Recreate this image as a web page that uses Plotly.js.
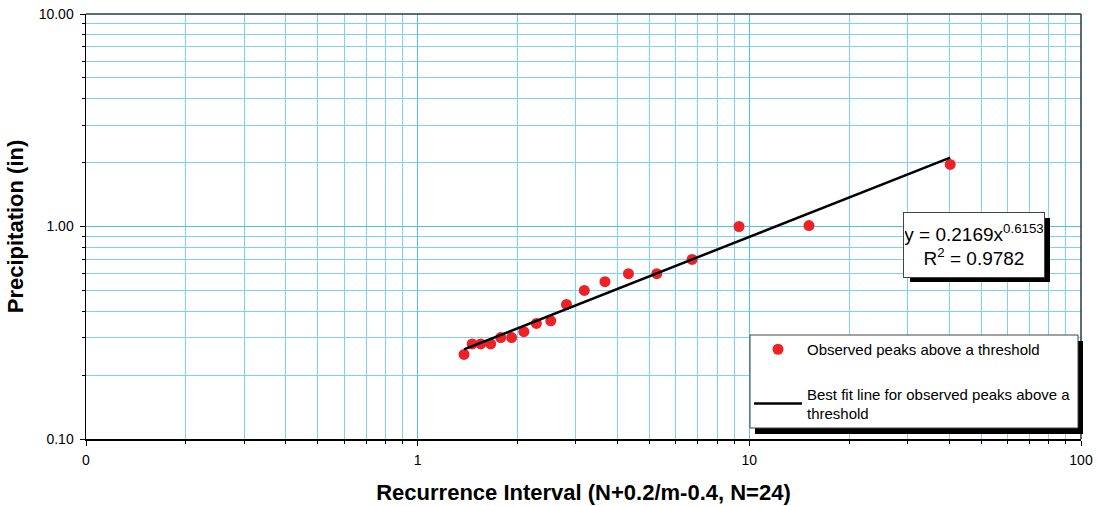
<!DOCTYPE html>
<html>
<head>
<meta charset="utf-8">
<script src="https://cdn.plot.ly/plotly-3.0.1.min.js"></script>
<style>html,body{margin:0;padding:0;background:#fff;}#chart{width:1097px;height:506px;}</style>
</head>
<body>
<div id="chart"></div>
<script>
// Observed peaks above a threshold (N=24)
const recurrenceInterval = [40.33, 15.13, 9.31, 6.72, 5.26, 4.32, 3.67, 3.18, 2.81, 2.52, 2.28, 2.09, 1.92, 1.78, 1.66, 1.55, 1.46, 1.38];
const precipitation      = [1.96, 1.01, 1.00, 0.70, 0.60, 0.60, 0.55, 0.50, 0.43, 0.36, 0.35, 0.32, 0.30, 0.30, 0.28, 0.28, 0.28, 0.25];
// Best fit line end points
const fitX = [1.38, 40.33];
const fitY = [0.264, 2.11];
const xTickVals = [0.1, 1, 10, 100];
const xTickText = ['0', '1', '10', '100'];
const yTickVals = [0.1, 1, 10];
const yTickText = ['0.10', '1.00', '10.00'];
const equationText = 'y = 0.2169x<sup>0.6153</sup><br>R<sup>2</sup> = 0.9782';

const L = 86, R = 1081, T = 14, B = 439;
const px = x => (x - L) / (R - L);
const py = y => (B - y) / (B - T);

const gridColor = '#7fd3f2';
const font = 'Arial, "Liberation Sans", sans-serif';

const traces = [
  {
    x: recurrenceInterval, y: precipitation, type: 'scatter', mode: 'markers',
    name: 'Observed peaks above a threshold', legendgroup: 'a',
    marker: {color: '#ec2227', size: 11}
  },
  {
    x: fitX, y: fitY, type: 'scatter', mode: 'lines',
    name: 'Best fit line for observed peaks above a<br>threshold', legendgroup: 'b',
    line: {color: '#000', width: 2.5}
  }
];

const layout = {
  width: 1097, height: 506,
  margin: {l: L, r: 1097 - R, t: T, b: 506 - B},
  paper_bgcolor: '#fff', plot_bgcolor: '#fff',
  font: {family: font, color: '#000', size: 14},
  showlegend: true,
  xaxis: {
    type: 'log', range: [-1, 2],
    tickvals: xTickVals, ticktext: xTickText,
    ticks: 'outside', ticklen: 5, tickcolor: '#000',
    ticklabelstandoff: 3,
    showgrid: true, gridcolor: '#4fc3ee', gridwidth: 1,
    minor: {dtick: 'D1', showgrid: true, gridcolor: gridColor, gridwidth: 1, ticks: 'outside', ticklen: 3, tickcolor: '#000'},
    showline: true, linecolor: '#000', linewidth: 1.5, mirror: false,
    zeroline: false,
    tickfont: {size: 14, family: font},
    title: {text: '<b>Recurrence Interval (N+0.2/m-0.4, N=24)</b>', font: {size: 22, family: font}, standoff: 17}
  },
  yaxis: {
    type: 'log', range: [-1, 1],
    tickvals: yTickVals, ticktext: yTickText,
    ticks: 'outside', ticklen: 5, tickcolor: '#000',
    ticklabelstandoff: 3,
    showgrid: true, gridcolor: '#4fc3ee', gridwidth: 1,
    minor: {dtick: 'D1', showgrid: true, gridcolor: gridColor, gridwidth: 1, ticks: 'outside', ticklen: 3, tickcolor: '#000'},
    showline: true, linecolor: '#000', linewidth: 1.5, mirror: false,
    zeroline: false,
    tickfont: {size: 14, family: font},
    title: {text: '<b>Precipitation (in)</b>', font: {size: 22, family: font}, standoff: 9}
  },
  legend: {
    x: px(749), y: py(333), xanchor: 'left', yanchor: 'top',
    bgcolor: 'rgba(0,0,0,0)', borderwidth: 0,
    font: {size: 15, family: font},
    itemwidth: 48,
    traceorder: 'grouped', tracegroupgap: 22
  },
  shapes: [
    // plot border (top/right)
    {type: 'line', xref: 'paper', yref: 'paper', x0: 0, x1: 1, y0: 1, y1: 1, line: {color: '#233b40', width: 1.5}, layer: 'above'},
    {type: 'line', xref: 'paper', yref: 'paper', x0: 1, x1: 1, y0: 0, y1: 1, line: {color: '#233b40', width: 1.5}, layer: 'above'},
    // legend shadow + box
    {type: 'rect', xref: 'paper', yref: 'paper', x0: px(755), x1: px(1083), y0: py(341), y1: py(434), fillcolor: '#000', line: {width: 0}, layer: 'above'},
    {type: 'rect', xref: 'paper', yref: 'paper', x0: px(750), x1: px(1078), y0: py(335), y1: py(428), fillcolor: '#fff', line: {color: '#444', width: 1}, layer: 'above'},
    // equation shadow
    {type: 'rect', xref: 'paper', yref: 'paper', x0: px(910), x1: px(1050), y0: py(218), y1: py(282), fillcolor: '#000', line: {width: 0}, layer: 'above'}
  ],
  annotations: [
    {
      xref: 'paper', yref: 'paper', x: px(974), y: py(245), xanchor: 'center', yanchor: 'middle',
      text: equationText, showarrow: false,
      font: {size: 19, family: font, color: '#000'},
      bgcolor: '#fff', bordercolor: '#444', borderwidth: 1,
      width: 138, height: 62, align: 'center'
    }
  ]
};

Plotly.newPlot('chart', traces, layout, {staticPlot: true, displayModeBar: false});
</script>
</body>
</html>
